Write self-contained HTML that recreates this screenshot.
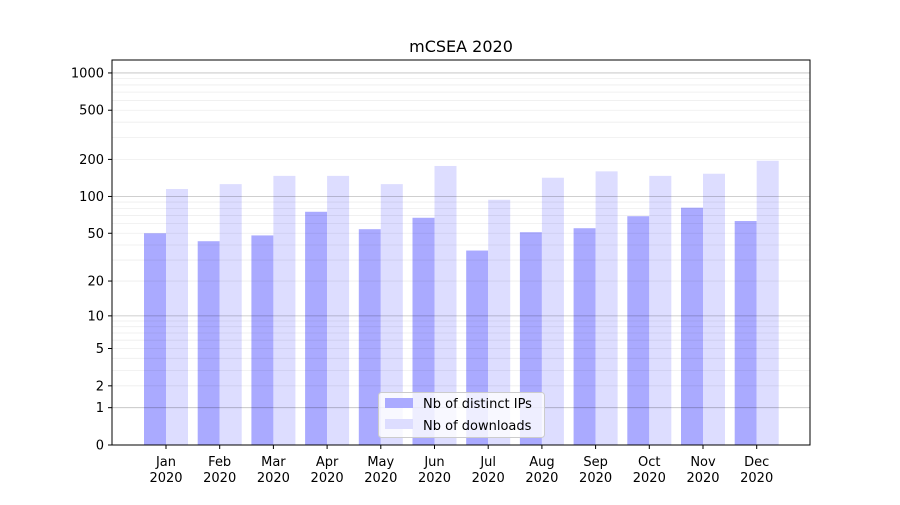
<!DOCTYPE html>
<html><head><meta charset="utf-8"><style>
html,body{margin:0;padding:0;background:#fff;}
svg text{font-family:"DejaVu Sans","Liberation Sans",sans-serif;font-size:13px;fill:#000;}
</style></head><body>
<svg id="s" width="900" height="500" xmlns="http://www.w3.org/2000/svg">
<rect width="900" height="500" fill="#fff"/>
<g id="bars"></g>
<g id="grid"></g>
<rect x="112" y="60" width="698" height="385" fill="none" stroke="#000" stroke-width="1"/>
<g id="ticks"></g>
<text x="461" y="52" text-anchor="middle" style="font-size:16px">mCSEA 2020</text>
<rect x="378.5" y="392.5" width="166" height="45" rx="3" fill="#fff" fill-opacity="0.8" stroke="#ccc"/>
<rect x="385" y="398" width="28" height="10" fill="#aaaaff"/>
<rect x="385" y="419" width="28" height="10" fill="#ddddff"/>
<text x="423" y="408">Nb of distinct IPs</text>
<text x="423" y="430">Nb of downloads</text>
</svg>
<script>
var ns="http://www.w3.org/2000/svg";
function el(p,t,a,txt){var e=document.createElementNS(ns,t);for(var k in a)e.setAttribute(k,a[k]);if(txt!=null)e.textContent=txt;document.getElementById(p).appendChild(e);}
function Y(v){return 445-124*Math.log10(v+1);}
[1,10,100,1000].forEach(function(d){for(var m=2;m<=9;m++){var y=Y(m*d);if(y>60)el("grid","line",{x1:112,x2:810,y1:y,y2:y,stroke:"#000","stroke-opacity":0.07,"stroke-width":0.8});}});
[1,10,100,1000].forEach(function(v){var y=Y(v);el("grid","line",{x1:112,x2:810,y1:y,y2:y,stroke:"#000","stroke-opacity":0.25,"stroke-width":0.8});});
var ticks=[0,1,2,5,10,20,50,100,200,500,1000];
ticks.forEach(function(v){var y=Y(v);el("ticks","line",{x1:108,x2:112,y1:y,y2:y,stroke:"#000"});el("ticks","text",{x:104,y:y+4.5,"text-anchor":"end"},v);});
var ip=[50,43,48,75,54,67,36,51,55,69,81,63];
var dl=[115,126,147,147,126,177,94,142,160,147,153,195];
var mo=["Jan","Feb","Mar","Apr","May","Jun","Jul","Aug","Sep","Oct","Nov","Dec"];
for(var i=0;i<12;i++){var c=166+i*53.7;
el("bars","rect",{x:c-22,y:Y(ip[i]),width:22,height:445-Y(ip[i]),fill:"#aaaaff"});
el("bars","rect",{x:c,y:Y(dl[i]),width:22,height:445-Y(dl[i]),fill:"#ddddff"});
el("ticks","line",{x1:c,x2:c,y1:445,y2:449,stroke:"#000"});
el("ticks","text",{x:c,y:466,"text-anchor":"middle"},mo[i]);
el("ticks","text",{x:c,y:482,"text-anchor":"middle"},"2020");}
</script>
</body></html>
